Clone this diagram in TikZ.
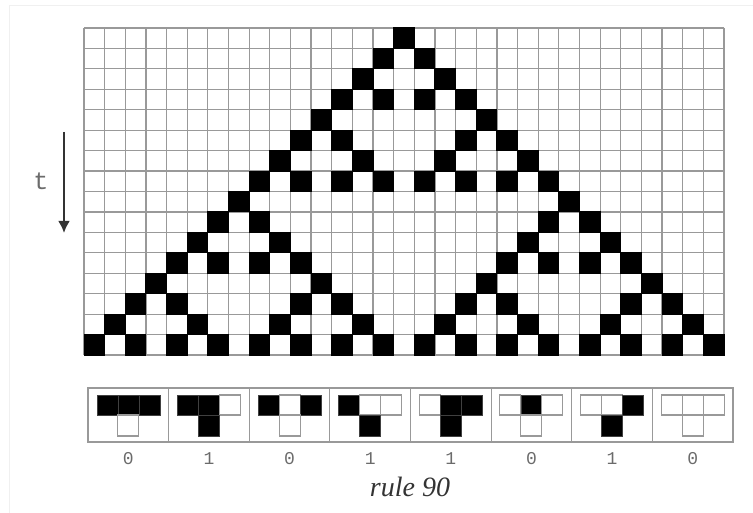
\documentclass[tikz,border=0pt]{standalone}
\usepackage{fontspec}
\setmainfont{Liberation Serif}
\setmonofont{Liberation Mono}
\usetikzlibrary{arrows.meta}
\definecolor{gridgray}{gray}{0.6}
\definecolor{txtgray}{gray}{0.42}
\definecolor{darktxt}{gray}{0.2}
\tikzset{
  gridline/.style={draw=gridgray, line width=1.2pt},
  blackcell/.style={fill=black},
  whitesq/.style={draw=gridgray, line width=1.1pt, fill=white},
  blacksq/.style={fill=black, draw=black!75, line width=0.6pt},
  boxline/.style={draw=gridgray, line width=1.2pt},
  outlabel/.style={font=\ttfamily\fontsize{18}{18}\selectfont, text=txtgray, inner sep=0pt},
  caption/.style={font=\itshape\fontsize{28}{28}\selectfont, text=darktxt, inner sep=0pt},
  timelabel/.style={font=\ttfamily\fontsize{25}{25}\selectfont, text=txtgray, inner sep=0pt},
  timearrow/.style={draw=darktxt, line width=2.6pt, -{Latex[length=12pt,width=12pt]}}
}
\begin{document}
\begin{tikzpicture}[x=1pt,y=-1pt]
\useasboundingbox (0,0) rectangle (753,513);
% faint frame
\draw[black!6, line width=0.8pt] (9,513) -- (9,5) -- (753,5);
\def\gx{84}\def\gy{28}\def\cw{20.645}\def\ch{20.44}
% grid lines
\foreach \i in {0,...,31} \draw[gridline] ({\gx+\cw*\i},\gy) -- ({\gx+\cw*\i},{\gy+16*\ch});
\foreach \j in {0,...,16} \draw[gridline] (\gx,{\gy+\ch*\j}) -- ({\gx+31*\cw},{\gy+\ch*\j});
% black cells: row/list of columns
\foreach \r/\cols in {0/{15},1/{14,16},2/{13,17},3/{12,14,16,18},4/{11,19},5/{10,12,18,20},
  6/{9,13,17,21},7/{8,10,12,14,16,18,20,22},8/{7,23},9/{6,8,22,24},10/{5,9,21,25},
  11/{4,6,8,10,20,22,24,26},12/{3,11,19,27},13/{2,4,10,12,18,20,26,28},
  14/{1,5,9,13,17,21,25,29},15/{0,2,4,6,8,10,12,14,16,18,20,22,24,26,28,30}}{
  \foreach \c in \cols {
    \fill[blackcell] ({\gx+\cw*\c-0.5},{\gy+\ch*\r-0.5}) rectangle ({\gx+\cw*(\c+1)+0.5},{\gy+\ch*(\r+1)+0.5});
  }
}
% time arrow
\coordinate (tTop) at (64,132);
\coordinate (tBot) at (64,233);
\draw[timearrow] (tTop) -- (tBot);
\node[timelabel] (tlab) at (41,181) {t};
% rule box
\def\bx{88}\def\bw{80.625}
\draw[boxline] (\bx,388) rectangle ({\bx+8*\bw},442);
\foreach \i in {1,...,7} \draw[boxline] ({\bx+\bw*\i},388) -- ({\bx+\bw*\i},442);
\foreach \i/\a/\b/\c/\o in {0/1/1/1/0,1/1/1/0/1,2/1/0/1/0,3/1/0/0/1,4/0/1/1/1,5/0/1/0/0,6/0/0/1/1,7/0/0/0/0}{
  \pgfmathsetmacro{\cx}{\bx+\bw*(\i+0.5)}
  \foreach \k/\v in {0/\a,1/\b,2/\c}{
    \ifnum\v=1
      \filldraw[blacksq] ({\cx-31.5+21*\k},395) rectangle ({\cx-10.5+21*\k},415);
    \else
      \draw[whitesq] ({\cx-31.5+21*\k},395) rectangle ({\cx-10.5+21*\k},415);
    \fi
  }
  \ifnum\o=1
    \filldraw[blacksq] ({\cx-10.5},415) rectangle ({\cx+10.5},436);
  \else
    \draw[whitesq] ({\cx-10.5},415) rectangle ({\cx+10.5},436);
  \fi
  \node[outlabel] (lab\i) at (\cx,459) {\o};
}
\node[caption] (cap) at (410,487) {rule 90};
\end{tikzpicture}
\end{document}
